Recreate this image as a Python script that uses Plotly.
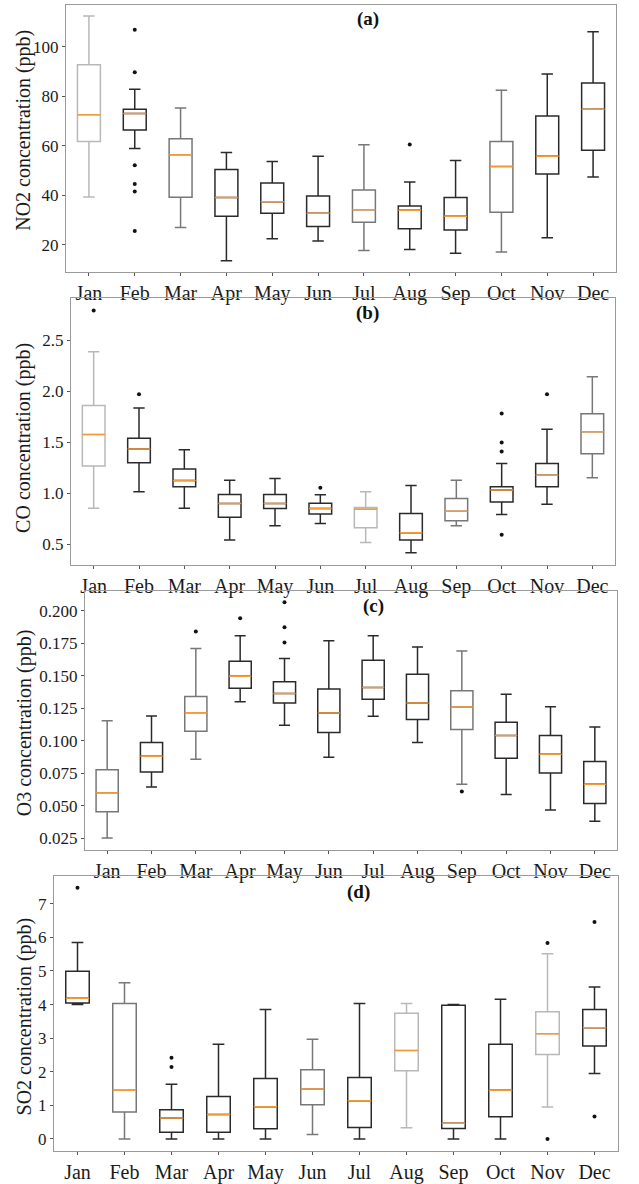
import plotly.graph_objects as go

months = ["Jan", "Feb", "Mar", "Apr", "May", "Jun", "Jul", "Aug", "Sep", "Oct", "Nov", "Dec"]

# (a) NO2
no2_low = [39.3, 58.8, 26.9, 13.5, 22.4, 21.5, 17.7, 18.1, 16.5, 17.1, 22.8, 47.3]
no2_q1 = [61.7, 66.3, 39.2, 31.5, 32.7, 27.3, 29.1, 26.4, 25.9, 33.1, 48.5, 58.1]
no2_med = [72.5, 73.0, 56.3, 39.1, 37.3, 32.7, 34.1, 33.9, 31.5, 51.6, 55.7, 74.7]
no2_q3 = [92.7, 74.7, 62.8, 50.4, 44.9, 39.7, 42.1, 35.6, 39.1, 61.7, 72.0, 85.3]
no2_high = [112.3, 82.8, 75.2, 57.2, 53.6, 55.7, 60.4, 45.3, 54.0, 82.4, 88.9, 106.0]
no2_out_month = ["Feb", "Feb", "Feb", "Feb", "Feb", "Feb", "Aug"]
no2_out_val = [106.8, 89.6, 52.1, 44.5, 41.5, 25.5, 60.5]

# (b) CO
co_low = [0.852, 1.014, 0.852, 0.542, 0.680, 0.704, 0.516, 0.416, 0.680, 0.791, 0.891, 1.150]
co_q1 = [1.267, 1.299, 1.063, 0.765, 0.849, 0.797, 0.661, 0.542, 0.729, 0.914, 1.063, 1.386]
co_med = [1.574, 1.432, 1.124, 0.898, 0.898, 0.849, 0.843, 0.613, 0.823, 1.030, 1.176, 1.603]
co_q3 = [1.859, 1.539, 1.238, 0.988, 0.988, 0.901, 0.859, 0.801, 0.947, 1.063, 1.292, 1.778]
co_high = [2.386, 1.836, 1.425, 1.127, 1.144, 0.985, 1.014, 1.076, 1.127, 1.292, 1.626, 2.141]
co_out_month = ["Jan", "Feb", "Jun", "Oct", "Oct", "Oct", "Oct", "Nov"]
co_out_val = [2.79, 1.969, 1.053, 1.782, 1.496, 1.409, 0.593, 1.969]

# (c) O3
o3_low = [0.0250, 0.0643, 0.0857, 0.1299, 0.1119, 0.0872, 0.1187, 0.0986, 0.0664, 0.0585, 0.0466, 0.0380]
o3_q1 = [0.0453, 0.0758, 0.1073, 0.1403, 0.1289, 0.1062, 0.1319, 0.1162, 0.1085, 0.0864, 0.0750, 0.0517]
o3_med = [0.0598, 0.0880, 0.1215, 0.1495, 0.1363, 0.1213, 0.1408, 0.1289, 0.1258, 0.1040, 0.0895, 0.0664]
o3_q3 = [0.0776, 0.0986, 0.1340, 0.1611, 0.1454, 0.1398, 0.1619, 0.1510, 0.1383, 0.1142, 0.1040, 0.0839]
o3_high = [0.1152, 0.1190, 0.1708, 0.1807, 0.1632, 0.1769, 0.1807, 0.1721, 0.1690, 0.1357, 0.1261, 0.1104]
o3_out_month = ["Mar", "Apr", "May", "May", "May", "Sep"]
o3_out_val = [0.184, 0.1942, 0.2064, 0.1873, 0.1756, 0.0608]

# (d) SO2
so2_low = [4.00, 0.00, 0.00, 0.00, 0.00, 0.13, 0.00, 0.33, 0.00, 0.00, 0.95, 1.95]
so2_q1 = [4.05, 0.80, 0.195, 0.195, 0.30, 1.02, 0.34, 2.03, 0.31, 0.66, 2.51, 2.77]
so2_med = [4.19, 1.45, 0.62, 0.73, 0.96, 1.49, 1.14, 2.63, 0.47, 1.45, 3.13, 3.31]
so2_q3 = [4.99, 4.03, 0.87, 1.26, 1.80, 2.06, 1.83, 3.74, 3.98, 2.82, 3.79, 3.85]
so2_high = [5.85, 4.65, 1.63, 2.82, 3.85, 2.97, 4.03, 4.03, 4.00, 4.16, 5.51, 4.52]
so2_out_month = ["Jan", "Mar", "Mar", "Nov", "Nov", "Dec", "Dec"]
so2_out_val = [7.48, 2.42, 2.14, 5.83, 0.0, 6.46, 0.67]

panel_labels = ["(a)", "(b)", "(c)", "(d)"]
y_titles = ["NO2 concentration (ppb)", "CO concentration (ppb)",
            "O3 concentration (ppb)", "SO2 concentration (ppb)"]

# ---------- styling ----------
W, H = 639, 1184
D, M, L = "#2a2a2a", "#777777", "#b8b8b8"
box_colors = [
    [L, D, M, D, D, D, M, D, D, M, D, D],
    [L, D, D, D, D, D, L, D, M, D, D, M],
    [M, D, M, D, D, D, D, D, M, D, D, D],
    [D, M, D, D, D, M, D, L, D, D, L, D],
]
# pixel frames: left, right, top, bottom
frames = [(66, 616, 5, 275), (71, 615, 301, 570), (85, 617, 597, 858), (54, 618, 884, 1162)]
yranges = [[8.8, 116.8], [0.299, 2.911], [0.0158, 0.2148], [-0.366, 7.835]]
ytickvals = [[20, 40, 60, 80, 100], [0.5, 1.0, 1.5, 2.0, 2.5],
             [0.025, 0.05, 0.075, 0.1, 0.125, 0.15, 0.175, 0.2], [0, 1, 2, 3, 4, 5, 6, 7]]
ytickfmt = ["d", ".1f", ".3f", "d"]
title_centers = [132, 442, 730, 1026]
label_pos = [(368, 19), (367, 316), (373, 612), (358, 900)]

panels = [
    (no2_low, no2_q1, no2_med, no2_q3, no2_high, no2_out_month, no2_out_val),
    (co_low, co_q1, co_med, co_q3, co_high, co_out_month, co_out_val),
    (o3_low, o3_q1, o3_med, o3_q3, o3_high, o3_out_month, o3_out_val),
    (so2_low, so2_q1, so2_med, so2_q3, so2_high, so2_out_month, so2_out_val),
]

FONT = "Liberation Serif, Times New Roman, serif"
BOXW = 0.5
fig = go.Figure()
annotations = []
idx = list(range(len(months)))

for p, (lo, q1, med, q3, hi, om, ov) in enumerate(panels):
    xa = "x" if p == 0 else f"x{p+1}"
    ya = "y" if p == 0 else f"y{p+1}"
    for i in idx:
        fig.add_trace(go.Box(
            x=[i], q1=[q1[i]], median=[med[i]], q3=[q3[i]],
            lowerfence=[lo[i]], upperfence=[hi[i]],
            width=BOXW, whiskerwidth=0.5,
            line=dict(color=box_colors[p][i], width=1.5),
            fillcolor="rgba(0,0,0,0)", boxpoints=False,
            xaxis=xa, yaxis=ya, showlegend=False, hoverinfo="skip"))
    # orange median segments
    mx, my = [], []
    for i in idx:
        mx += [i - BOXW / 2, i + BOXW / 2, None]
        my += [med[i], med[i], None]
    fig.add_trace(go.Scatter(x=mx, y=my, mode="lines",
                             line=dict(color="#f59a3a", width=1.5),
                             xaxis=xa, yaxis=ya, showlegend=False, hoverinfo="skip"))
    # outliers
    fig.add_trace(go.Scatter(x=[months.index(m) for m in om], y=ov, mode="markers",
                             marker=dict(color="#111111", size=4),
                             xaxis=xa, yaxis=ya, showlegend=False, hoverinfo="skip"))

    l, r, t, b = frames[p]
    axis_common = dict(showline=True, linecolor="#9a9a9a", linewidth=1, mirror=True,
                       showgrid=False, zeroline=False, ticks="outside", ticklen=3,
                       tickcolor="#555555")
    fig.layout[("xaxis" if p == 0 else f"xaxis{p+1}")] = dict(
        domain=[l / W, r / W], anchor=ya, range=[-0.5, 11.5],
        tickvals=idx, ticktext=months,
        tickfont=dict(family=FONT, size=20, color="#1a1a1a"), **axis_common)
    fig.layout[("yaxis" if p == 0 else f"yaxis{p+1}")] = dict(
        domain=[1 - b / H, 1 - t / H], anchor=xa, range=yranges[p],
        tickvals=ytickvals[p], tickformat=ytickfmt[p],
        tickfont=dict(family=FONT, size=17, color="#1a1a1a"), **axis_common)

    annotations.append(dict(text=y_titles[p], x=24 / W, y=1 - title_centers[p] / H,
                            xref="paper", yref="paper", showarrow=False, textangle=-90,
                            font=dict(family=FONT, size=20, color="#1a1a1a"),
                            xanchor="center", yanchor="middle"))
    lx, ly = label_pos[p]
    annotations.append(dict(text="<b>" + panel_labels[p] + "</b>", x=lx / W, y=1 - ly / H,
                            xref="paper", yref="paper", showarrow=False,
                            font=dict(family=FONT, size=19, color="#111111"),
                            xanchor="center", yanchor="middle"))

fig.update_layout(width=W, height=H, margin=dict(l=0, r=0, t=0, b=0),
                  paper_bgcolor="white", plot_bgcolor="white",
                  annotations=annotations, showlegend=False)

fig.write_html("out.html")
